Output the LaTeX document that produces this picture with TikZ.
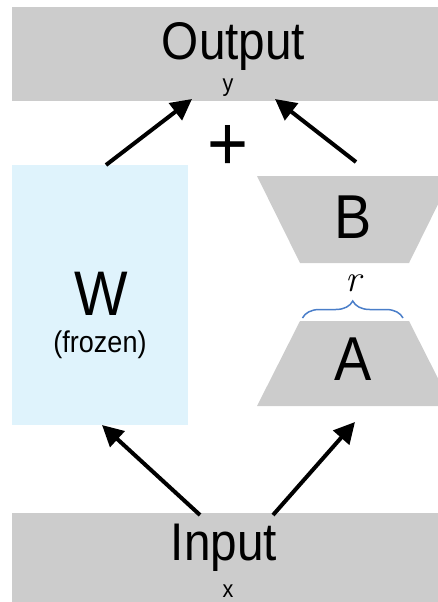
\documentclass[tikz,border=0pt]{standalone}
\usepackage{fontspec}
\setmainfont{Liberation Sans}[FakeStretch=0.9]
\newfontfamily\lmrfont{Latin Modern Roman}
\usetikzlibrary{arrows.meta,decorations.pathreplacing,calc}
\definecolor{boxgray}{RGB}{204,204,204}
\definecolor{wblue}{RGB}{223,243,252}
\definecolor{braceblue}{RGB}{74,126,201}
\newcommand{\setfs}[1]{\fontsize{#1}{#1}\selectfont}
\begin{document}
\begin{tikzpicture}[x=1pt,y=-1pt,
  graybox/.style={fill=boxgray,draw=none,inner sep=0pt,outer sep=0pt},
  lbl/.style={anchor=base,inner sep=0pt,outer sep=0pt,text=black},
  arr/.style={line width=4pt,-{Triangle[length=21pt,width=21pt]}},
  bracestyle/.style={braceblue,line width=1.5pt,decorate,decoration={brace,amplitude=17pt}}
]
\useasboundingbox (0,0) rectangle (438,602);
\begin{scope}
  \clip (0,0) rectangle (438,602);
  \node[graybox,minimum width=440pt,minimum height=94pt] (out) at (232,54) {};
  \node[graybox,minimum width=428pt,minimum height=100pt] (in) at (226,563) {};
  \node[fill=wblue,draw=none,inner sep=0pt,outer sep=0pt,minimum width=176pt,minimum height=260pt] (W) at (100,295) {};
  \fill[boxgray] (257,176) -- (452,176) -- (409,263) -- (300,263) -- cycle;
  \fill[boxgray] (300,321) -- (409,321) -- (452,406) -- (257,406) -- cycle;
\end{scope}
% texts
\node[lbl,font=\setfs{53}] (outlbl) at (233.5,59.5) {Output};
\node[lbl,font=\setfs{24}] (ylbl) at (228,91.5) {y};
\node[lbl,font=\setfs{53}] (inlbl) at (224,560) {Input};
\node[lbl,font=\setfs{24}] (xlbl) at (228,597.5) {x};
\node[lbl,font=\setfs{63}] (Wlbl) at (101.5,315) {W};
\node[lbl,font=\setfs{30}] (frozen) at (100,352) {(frozen)};
\node[lbl,font=\setfs{62}] (B) at (353,238) {B};
\node[lbl,font=\setfs{62}] (A) at (353,380) {A};
\node[lbl,font=\lmrfont\itshape\setfs{38}] (r) at (353,291.7) {r};
\node[lbl,font=\setfs{78}] (plus) at (227.5,170.4) {+};
% brace
\coordinate (brL) at (302.5,318);
\coordinate (brR) at (403,318);
\draw[bracestyle] (brL) -- (brR);
% arrows
\coordinate (Btail) at (356,162);
\coordinate (Atip) at (355,422);
\draw[arr] ([xshift=6pt]W.north) -- ([xshift=-40pt,yshift=2pt]out.south);
\draw[arr] (Btail) -- ([xshift=43pt,yshift=2pt]out.south);
\draw[arr] ([xshift=-26pt,yshift=-2pt]in.north) -- ([xshift=2pt]W.south);
\draw[arr] ([xshift=47pt,yshift=-2pt]in.north) -- (Atip);
\end{tikzpicture}
\end{document}
